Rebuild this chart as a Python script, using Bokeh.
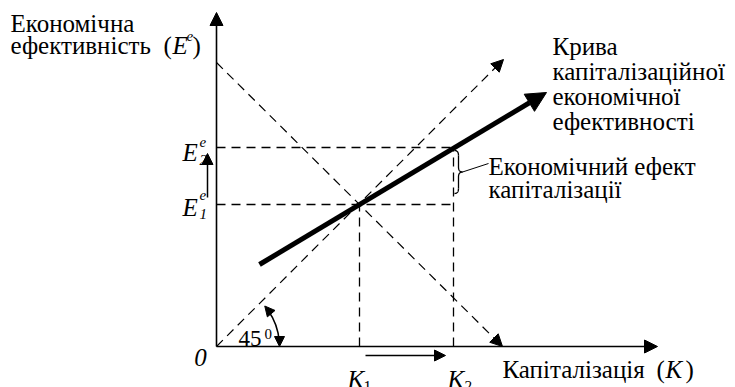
import numpy as np
from bokeh.plotting import figure
from bokeh.models import Arrow, NormalHead, Label
from bokeh.embed import file_html
from bokeh.resources import INLINE

# ---- data (diagram units, origin at O) ----
K_vals = [143, 237]          # K1, K2
E_vals = [142, 199]          # E1e, E2e
x_axis_max = [441]
y_axis_max = [334]
diag45_end = [287]           # 45-degree line end (x = y)
desc_line = [0, 284, 286, 0] # x0, y0, x1, y1
curve_x = [43, 330]
curve_y = [82, 254]
angle_deg = [0, 40]

W, H = 735, 387
X0, Y0 = 216, 346
p = figure(width=W, height=H, x_range=(-X0, W - X0), y_range=(Y0 - H, Y0),
           output_backend="svg", toolbar_location=None, min_border=0)
p.axis.visible = False
p.grid.visible = False
p.outline_line_color = None

K1, K2 = K_vals
E1, E2 = E_vals
dash = "9 6"

def arrow(x0, y0, x1, y1, lw=1.5, size=12, dash_=None):
    kw = dict(line_dash=dash_) if dash_ else {}
    p.add_layout(Arrow(end=NormalHead(size=size, fill_color="black", line_color="black", line_width=1),
                       x_start=x0, y_start=y0, x_end=x1, y_end=y1,
                       line_width=lw, line_color="black", **kw))

# axes
arrow(0, 0, 0, y_axis_max[0], lw=1.6, size=13)
arrow(0, 0, x_axis_max[0], 0, lw=1.6, size=13)

# dashed lines
arrow(0, 0, diag45_end[0], diag45_end[0], lw=1.2, size=12, dash_=dash)
arrow(desc_line[0], desc_line[1], desc_line[2], desc_line[3], lw=1.2, size=12, dash_=dash)
p.segment(x0=[0, 0, K1, K2], y0=[E1, E2, 0, 0], x1=[K2, K2, K1, K2], y1=[E1, E2, E1, E2],
          line_color="black", line_width=1.3, line_dash=dash)

# main curve
arrow(curve_x[0], curve_y[0], curve_x[1], curve_y[1], lw=5, size=20)

# small arrows E1->E2, K1->K2
arrow(-9, E1 + 7, -9, E2 - 6, lw=1.5, size=11)
arrow(K1 + 6, -9, K2 - 8, -9, lw=1.5, size=11)

# 45 degree arc
r = 63
a0, a1 = np.radians(angle_deg[0]), np.radians(angle_deg[1])
p.arc(x=[0], y=[0], radius=r, start_angle=a0 + 0.08, end_angle=a1 - 0.08,
      line_color="black", line_width=1.5)
arrow(r, 6, r, 0, lw=1.5, size=10)
tx, ty = r * np.cos(a1), r * np.sin(a1)
dx, dy = -np.sin(a1), np.cos(a1)
arrow(tx - 6 * dx, ty - 6 * dy, tx, ty, lw=1.5, size=10)

# brace
bx0, bx1 = 238, 246
ytop, ybot = 196, 153
ymid = (ytop + ybot) / 2
t = np.linspace(0, 1, 20)
def qb(p0, p1, p2):
    return ((1 - t) ** 2 * p0[0] + 2 * (1 - t) * t * p1[0] + t ** 2 * p2[0],
            (1 - t) ** 2 * p0[1] + 2 * (1 - t) * t * p1[1] + t ** 2 * p2[1])
xm = (bx0 + bx1) / 2
segs = [qb((bx0, ytop), (xm, ytop), (xm, ytop - 5)),
        qb((xm, ymid + 5), (xm, ymid), (bx1, ymid)),
        qb((bx1, ymid), (xm, ymid), (xm, ymid - 5)),
        qb((xm, ybot + 5), (xm, ybot), (bx0, ybot))]
for sx, sy in segs:
    p.line(sx, sy, line_color="black", line_width=1.3)
p.segment(x0=[xm, xm], y0=[ytop - 5, ymid - 5], x1=[xm, xm], y1=[ymid + 5, ybot + 5],
          line_color="black", line_width=1.3)
p.segment(x0=[bx1], y0=[ymid], x1=[272], y1=[183], line_color="black", line_width=1)

# texts
def txt(x, y, s, size=25, italic=False, align="left", base="alphabetic", shift=True):
    yy = y + (0.26 * size if shift else 0)
    p.add_layout(Label(x=x, y=yy, text=s, text_font="Liberation Serif, serif",
                       text_font_size=f"{size}px",
                       text_font_style="italic" if italic else "normal",
                       text_align=align, text_baseline=base, text_color="black"))

txt(-206, 317, "Економічна")
txt(-206, 295, "ефективність")
txt(-53, 295, "(")
txt(-44, 295, "E", italic=True)
txt(-30, 307, "e", size=15, italic=True)
txt(-24, 295, ")")

for i, s in enumerate(["Крива", "капіталізаційної", "економічної", "ефективності"]):
    txt(336, 294 - 25 * i, s)
txt(272, 174, "Економічний ефект")
txt(272, 151, "капіталізації")

txt(286, -29, "Капіталізація")
txt(440, -29, "(")
txt(449, -29, "K", italic=True)
txt(469, -29, ")")

txt(K1 - 12, -39, "K", italic=True)
txt(K1 + 4, -44, "1", size=16)
txt(K2 - 6, -39, "K", italic=True)
txt(K2 + 10, -44, "2", size=16, italic=True)

txt(-16, -11, "0", italic=True, align="center", base="middle", shift=False)
txt(22, 2, "45", size=23)
txt(48, 9, "0", size=15)

txt(-34, E2 - 11, "E", italic=True)
txt(-17, E2 - 16, "2", size=15, italic=True)
txt(-17, E2 + 2, "e", size=15, italic=True)
txt(-34, E1 - 9, "E", italic=True)
txt(-17, E1 - 13, "1", size=15, italic=True)
txt(-17, E1 + 6, "e", size=15, italic=True)

open("out.html", "w").write(file_html(p, INLINE))
